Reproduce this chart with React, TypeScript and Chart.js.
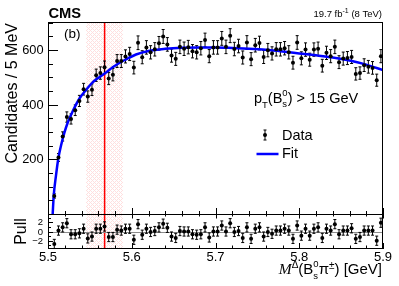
import { useEffect, useRef } from "react";
import { Chart, registerables } from "chart.js";

Chart.register(...registerables);

// ---------- data ----------
const binCenters = [
  5.5075, 5.5125, 5.5175, 5.5225, 5.5275, 5.5325, 5.5375, 5.5425, 5.5475, 5.5525,
  5.5575, 5.5625, 5.5675, 5.5725, 5.5775, 5.5825, 5.5875, 5.5925, 5.5975, 5.6025,
  5.6075, 5.6125, 5.6175, 5.6225, 5.6275, 5.6325, 5.6375, 5.6425, 5.6475, 5.6525,
  5.6575, 5.6625, 5.6675, 5.6725, 5.6775, 5.6825, 5.6875, 5.6925, 5.6975, 5.7025,
  5.7075, 5.7125, 5.7175, 5.7225, 5.7275, 5.7325, 5.7375, 5.7425, 5.7475, 5.7525,
  5.7575, 5.7625, 5.7675, 5.7725, 5.7775, 5.7825, 5.7875, 5.7925, 5.7975, 5.8025,
  5.8075, 5.8125, 5.8175, 5.8225, 5.8275, 5.8325, 5.8375, 5.8425, 5.8475, 5.8525,
  5.8575, 5.8625, 5.8675, 5.8725, 5.8775, 5.8825, 5.8875, 5.8925, 5.8975,
];

const candidates = [
  66, 207, 284, 355, 348, 380, 414, 457, 430, 455,
  508, 516, 537, 496, 510, 560, 560, 577, 586, 536,
  627, 574, 610, 592, 603, 625, 650, 621, 580, 568,
  612, 605, 611, 596, 592, 607, 637, 578, 610, 610,
  643, 612, 653, 604, 615, 573, 628, 567, 618, 626,
  575, 600, 588, 603, 603, 607, 592, 554, 628, 570,
  602, 565, 602, 605, 543, 590, 578, 612, 556, 569,
  571, 575, 513, 516, 545, 539, 535, 490, 578,
];

const pulls = [
  -2.7, 0.2, 0.9, 1.8, -0.6, -0.6, -0.4, 0.6, -1.5, -1.1,
  0.6, 0.6, 1.1, -1.2, -1.2, 0.4, 0.2, 0.6, 0.6, -1.8,
  1.6, -0.7, 0.6, -0.1, 0.1, 0.9, 1.7, 0.8, -1.1, -1.4,
  0.1, 0.0, 0.0, -0.6, -0.7, -0.6, 0.9, -1.3, 0.0, 0.0,
  1.3, 0.0, 1.8, -0.1, 0.1, -1.4, 0.9, -1.6, 0.6, 0.9,
  -1.1, -0.1, -0.5, 0.2, 0.2, 0.6, 0.2, -1.6, 1.3, -0.9,
  0.6, -0.9, 0.6, 0.9, -1.4, 0.6, 0.2, 1.6, -0.6, 0.2,
  0.2, 0.7, -1.6, -1.2, 0.2, 0.2, 0.2, -2.0, 1.9,
];

const fitMass = [
  5.5056, 5.5068, 5.5096, 5.5124, 5.5155, 5.5195, 5.5235, 5.5295, 5.5374, 5.5454,
  5.5533, 5.5613, 5.5693, 5.5772, 5.5852, 5.5931, 5.6051, 5.62, 5.64, 5.66,
  5.68, 5.70, 5.72, 5.74, 5.76, 5.78, 5.80, 5.82, 5.84, 5.86, 5.88, 5.90,
];
const fitValues = [
  0, 66, 142, 205, 250, 297, 334, 376, 422, 454,
  482, 501, 518, 537, 553, 566, 584, 597, 605, 609,
  610, 610, 608, 605, 601, 595, 588, 581, 573, 562, 547, 527,
];

const peakMass = 5.5676;
const signalBand = [5.5454, 5.5896];

const xTickLabels = ["5.5", "5.6", "5.7", "5.8", "5.9"];
const xTickValues = [5.5, 5.6, 5.7, 5.8, 5.9];
const yTickValues = [200, 400, 600];
const yTickLabels = ["200", "400", "600"];
const pullTickValues = [-2, 0, 2];
const pullTickLabels = ["\u22122", "0", "2"];

// ---------- helpers ----------
const SANS = '"Liberation Sans", Arial, Helvetica, sans-serif';
const SERIF = '"Liberation Serif", "Times New Roman", serif';

type Seg = {
  t?: string;
  up?: string;
  dn?: string;
  size: number;
  dy?: number;
  upDy?: number;
  dnDy?: number;
  italic?: boolean;
  serif?: boolean;
  bold?: boolean;
};

function fontOf(s: Seg) {
  return `${s.italic ? "italic " : ""}${s.bold ? "bold " : ""}${s.size}px ${s.serif ? SERIF : SANS}`;
}

function drawRich(ctx: CanvasRenderingContext2D, segs: Seg[], x: number, y: number, align: "left" | "right") {
  ctx.textAlign = "left";
  ctx.textBaseline = "alphabetic";
  const widths = segs.map((s) => {
    ctx.font = fontOf(s);
    if (s.t !== undefined) return ctx.measureText(s.t).width;
    return Math.max(ctx.measureText(s.up || "").width, ctx.measureText(s.dn || "").width);
  });
  const total = widths.reduce((a, b) => a + b, 0);
  let cx = align === "right" ? x - total : x;
  segs.forEach((s, i) => {
    ctx.font = fontOf(s);
    if (s.t !== undefined) {
      ctx.fillText(s.t, cx, y + (s.dy || 0));
    } else {
      ctx.fillText(s.up || "", cx, y + (s.upDy || 0));
      ctx.fillText(s.dn || "", cx, y + (s.dnDy || 0));
    }
    cx += widths[i];
  });
}

function seg(ctx: CanvasRenderingContext2D, x1: number, y1: number, x2: number, y2: number) {
  ctx.beginPath();
  ctx.moveTo(x1, y1);
  ctx.lineTo(x2, y2);
  ctx.stroke();
}

function makeHatch(ctx: CanvasRenderingContext2D) {
  const c = document.createElement("canvas");
  c.width = 4;
  c.height = 4;
  const g = c.getContext("2d")!;
  g.fillStyle = "rgba(255,110,110,0.22)";
  for (let x = 0; x < 4; x++)
    for (let y = 0; y < 4; y++)
      if ((x + y) % 4 === 0 || (x - y + 4) % 4 === 0) g.fillRect(x, y, 1, 1);
  return ctx.createPattern(c, "repeat")!;
}

function drawBandAndLine(chart: any) {
  const { ctx, chartArea: a, scales } = chart;
  const x = scales.x;
  const b0 = x.getPixelForValue(signalBand[0]);
  const b1 = x.getPixelForValue(signalBand[1]);
  ctx.save();
  ctx.fillStyle = makeHatch(ctx);
  ctx.fillRect(b0, a.top, b1 - b0, a.bottom - a.top);
  const px = x.getPixelForValue(peakMass);
  ctx.strokeStyle = "#ff0000";
  ctx.lineWidth = 1.5;
  seg(ctx, px, a.top, px, a.bottom);
  ctx.restore();
}

function errorBar(ctx: CanvasRenderingContext2D, x: number, y1: number, y2: number) {
  seg(ctx, x, y1, x, y2);
  seg(ctx, x - 1.5, y1, x + 1.5, y1);
  seg(ctx, x - 1.5, y2, x + 1.5, y2);
}

const snap = (v: number) => Math.round(v) + 0.5;

// ---------- plugins ----------
const mainPlugin = {
  id: "mainDeco",
  beforeDatasetsDraw(chart: any) {
    drawBandAndLine(chart);
    const { ctx, scales } = chart;
    const { x, y } = scales;
    ctx.save();
    ctx.strokeStyle = "#000";
    ctx.lineWidth = 1;
    binCenters.forEach((m, i) => {
      const n = candidates[i];
      const e = Math.sqrt(n);
      errorBar(ctx, x.getPixelForValue(m), y.getPixelForValue(n + e), y.getPixelForValue(n - e));
    });
    ctx.restore();
  },
  afterDatasetsDraw(chart: any) {
    const { ctx, chartArea: a, scales } = chart;
    const { x, y } = scales;
    ctx.save();
    ctx.strokeStyle = "#000";
    ctx.lineWidth = 1;
    ctx.strokeRect(a.left + 0.5, a.top + 0.5, a.right - a.left - 1, a.bottom - a.top);
    // y ticks
    for (let v = 0; v <= 700; v += 50) {
      const py = snap(y.getPixelForValue(v));
      if (py < a.top || py > a.bottom) continue;
      const len = v % 200 === 0 ? 10 : 5;
      seg(ctx, a.left, py, a.left + len, py);
    }
    // x ticks at bottom of main pad
    for (let k = 0; k <= 20; k++) {
      const v = 5.5 + 0.02 * k;
      const px = snap(x.getPixelForValue(v));
      const len = k % 5 === 0 ? 6 : 3;
      seg(ctx, px, a.bottom, px, a.bottom - len);
    }
    // y labels
    ctx.fillStyle = "#000";
    ctx.font = `12.8px ${SANS}`;
    ctx.textAlign = "right";
    ctx.textBaseline = "middle";
    yTickValues.forEach((v, i) => ctx.fillText(yTickLabels[i], 43.5, y.getPixelForValue(v) + 0.5));
    // y title
    ctx.save();
    ctx.translate(16.5, 23);
    ctx.rotate(-Math.PI / 2);
    ctx.textAlign = "right";
    ctx.textBaseline = "alphabetic";
    ctx.font = `16px ${SANS}`;
    ctx.fillText("Candidates / 5 MeV", 0, 0);
    ctx.restore();
    // CMS
    ctx.textAlign = "left";
    ctx.textBaseline = "alphabetic";
    ctx.font = `bold 14.7px ${SANS}`;
    ctx.fillText("CMS", 48.5, 17.5);
    // (b)
    ctx.font = `13.5px ${SANS}`;
    ctx.fillText("(b)", 64, 37.5);
    // lumi
    drawRich(
      ctx,
      [
        { t: "19.7 fb", size: 9.5 },
        { t: "-1", size: 7, dy: -4 },
        { t: " (8 TeV)", size: 9.5 },
      ],
      382,
      16.5,
      "right"
    );
    // pT cut
    drawRich(
      ctx,
      [
        { t: "p", size: 14.5 },
        { t: "T", size: 9.5, dy: 5 },
        { t: "(B", size: 14.5 },
        { up: "0", dn: "s", size: 9.5, upDy: -7, dnDy: 4.5 },
        { t: ") > 15 GeV", size: 14.5 },
      ],
      254,
      102.5,
      "left"
    );
    // legend
    ctx.beginPath();
    ctx.arc(265, 135, 2, 0, Math.PI * 2);
    ctx.fill();
    errorBar(ctx, 265, 130, 140);
    ctx.font = `14.5px ${SANS}`;
    ctx.fillText("Data", 282, 139.5);
    ctx.strokeStyle = "#0000ff";
    ctx.lineWidth = 2.5;
    seg(ctx, 256.5, 154, 278.5, 154);
    ctx.fillText("Fit", 282, 158.3);
    ctx.restore();
  },
};

const pullPlugin = {
  id: "pullDeco",
  beforeDatasetsDraw(chart: any) {
    drawBandAndLine(chart);
    const { ctx, chartArea: a, scales } = chart;
    const { x, y } = scales;
    ctx.save();
    ctx.strokeStyle = "#8c8c8c";
    ctx.lineWidth = 1;
    const p0 = snap(y.getPixelForValue(0));
    seg(ctx, a.left, p0, a.right, p0);
    ctx.strokeStyle = "#000";
    binCenters.forEach((m, i) => {
      const p = pulls[i];
      errorBar(ctx, x.getPixelForValue(m), y.getPixelForValue(p + 1), y.getPixelForValue(p - 1));
    });
    ctx.restore();
  },
  afterDatasetsDraw(chart: any) {
    const { ctx, chartArea: a, scales } = chart;
    const { x, y } = scales;
    ctx.save();
    ctx.strokeStyle = "#000";
    ctx.lineWidth = 1;
    ctx.strokeRect(a.left + 0.5, a.top + 0.5, a.right - a.left - 1, a.bottom - a.top - 1);
    // x ticks top (down) and bottom (up)
    for (let k = 0; k <= 20; k++) {
      const v = 5.5 + 0.02 * k;
      const px = snap(x.getPixelForValue(v));
      const major = k % 5 === 0;
      seg(ctx, px, a.top, px, a.top + (major ? 4.5 : 2.5));
      seg(ctx, px, a.bottom, px, a.bottom - (major ? 6 : 3.5));
    }
    // y ticks
    for (let v = -3; v <= 3; v += 1) {
      const py = snap(y.getPixelForValue(v));
      const len = v % 2 === 0 ? 5 : 3;
      seg(ctx, a.left, py, a.left + len, py);
    }
    ctx.fillStyle = "#000";
    ctx.font = `9.5px ${SANS}`;
    ctx.textAlign = "right";
    ctx.textBaseline = "middle";
    pullTickValues.forEach((v, i) => ctx.fillText(pullTickLabels[i], 43, y.getPixelForValue(v) + 0.5));
    // x labels
    ctx.font = `13px ${SANS}`;
    ctx.textAlign = "center";
    ctx.textBaseline = "alphabetic";
    xTickValues.forEach((v, i) => ctx.fillText(xTickLabels[i], x.getPixelForValue(v), 260.5));
    // Pull title
    ctx.save();
    ctx.translate(26, (a.top + a.bottom) / 2);
    ctx.rotate(-Math.PI / 2);
    ctx.textAlign = "center";
    ctx.font = `16px ${SANS}`;
    ctx.fillText("Pull", 0, 0);
    ctx.restore();
    // x title
    drawRich(
      ctx,
      [
        { t: "M", size: 15.5, italic: true, serif: true },
        { t: "\u0394", size: 10, dy: -6 },
        { t: "(B", size: 15 },
        { up: "0", dn: "s", size: 9.5, upDy: -7, dnDy: 4.5 },
        { t: "\u03c0", size: 15 },
        { t: "\u00b1", size: 10, dy: -5 },
        { t: ") [GeV]", size: 15 },
      ],
      382,
      274,
      "right"
    );
    ctx.restore();
  },
};

// ---------- component ----------
export default function App() {
  const mainRef = useRef<HTMLCanvasElement>(null);
  const pullRef = useRef<HTMLCanvasElement>(null);

  useEffect(() => {
    const common = {
      responsive: false,
      devicePixelRatio: 1,
      animation: false as const,
      events: [] as any[],
      plugins: { legend: { display: false }, tooltip: { enabled: false } },
    };
    const main = new Chart(mainRef.current!, {
      type: "scatter",
      data: {
        datasets: [
          {
            data: binCenters.map((m, i) => ({ x: m, y: candidates[i] })),
            pointRadius: 2,
            pointBackgroundColor: "#000",
            pointBorderWidth: 0,
            showLine: false,
          },
          {
            data: fitMass.map((m, i) => ({ x: m, y: fitValues[i] })),
            showLine: true,
            pointRadius: 0,
            borderColor: "#0000ff",
            borderWidth: 2.5,
            cubicInterpolationMode: "monotone",
          } as any,
        ],
      },
      options: {
        ...common,
        layout: { padding: { left: 48, right: 16, top: 22, bottom: 72 } },
        scales: {
          x: { type: "linear", min: 5.5, max: 5.9, display: false },
          y: { type: "linear", min: 0, max: 703, display: false },
        },
      } as any,
      plugins: [mainPlugin],
    });
    const pull = new Chart(pullRef.current!, {
      type: "scatter",
      data: {
        datasets: [
          {
            data: binCenters.map((m, i) => ({ x: m, y: pulls[i] })),
            pointRadius: 2,
            pointBackgroundColor: "#000",
            pointBorderWidth: 0,
            showLine: false,
          },
        ],
      },
      options: {
        ...common,
        layout: { padding: { left: 48, right: 16, top: 214, bottom: 37 } },
        scales: {
          x: { type: "linear", min: 5.5, max: 5.9, display: false },
          y: { type: "linear", min: -3.8, max: 3.8, display: false },
        },
      } as any,
      plugins: [pullPlugin],
    });
    return () => {
      main.destroy();
      pull.destroy();
    };
  }, []);

  return (
    <div style={{ position: "fixed", left: 0, top: 0, width: 399, height: 286, background: "#fff" }}>
      <canvas ref={mainRef} width={399} height={286} style={{ position: "absolute", left: 0, top: 0 }} />
      <canvas ref={pullRef} width={399} height={286} style={{ position: "absolute", left: 0, top: 0 }} />
    </div>
  );
}
